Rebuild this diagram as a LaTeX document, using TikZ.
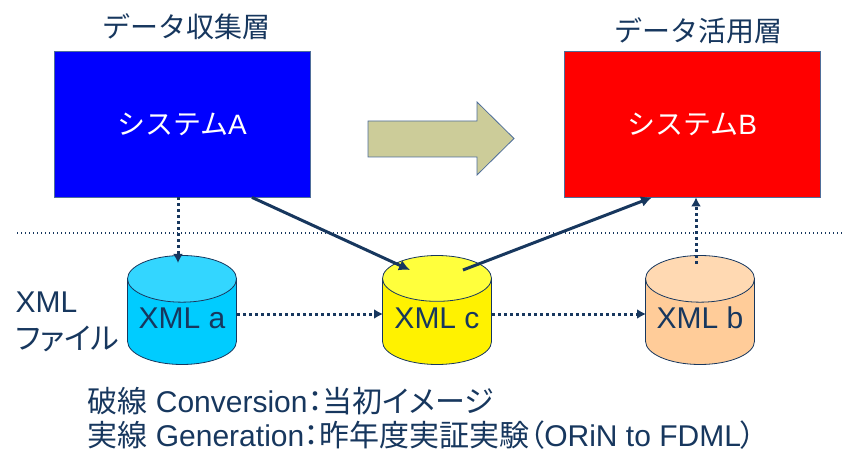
\documentclass[tikz,border=0pt]{standalone}
\usepackage{fontspec}
\setmainfont{Liberation Sans}
\newfontfamily\jp{Noto Sans CJK JP}
\newfontfamily\jpp[RawFeature=+palt]{Noto Sans CJK JP}
\usetikzlibrary{shapes.geometric,arrows.meta}

\definecolor{navy}{RGB}{23,55,94}
\definecolor{boxedge}{RGB}{79,110,154}
\definecolor{khaki}{RGB}{204,204,153}
\definecolor{cyanbody}{RGB}{0,204,255}
\definecolor{cyantop}{RGB}{51,214,255}
\definecolor{yellowtop}{RGB}{255,255,60}
\definecolor{peachbody}{RGB}{255,204,153}
\definecolor{peachtop}{RGB}{255,217,178}

\begin{document}
\begin{tikzpicture}[x=1pt, y=-1pt,
	sysbox/.style={draw=boxedge, line width=0.8pt, minimum width=256pt, minimum height=146pt,
		text=white, font=\fontsize{28}{34}\selectfont},
	layer/.style={text=navy, font=\fontsize{28}{34}\selectfont},
	xmlfile/.style={cylinder, shape border rotate=90, aspect=0.5, draw=navy, line width=0.8pt,
		minimum width=109pt, minimum height=109pt, cylinder uses custom fill, anchor=shape center,
		text=navy, text height=5pt, text depth=0pt, font=\fontsize{30}{36}\selectfont},
	legendline/.style={anchor=base west, text=navy, font=\fontsize{30}{36}\selectfont},
	conv/.style={navy, line width=3pt, dash pattern=on 3pt off 3pt, -{Latex[length=9pt,width=10pt]}},
	gen/.style={navy, line width=3pt, -{Latex[length=11pt,width=11pt]}}]
	\useasboundingbox (0,0) rectangle (843,454);

	% systems and layers
	\node[sysbox, fill=blue] (sysA) at (182,124) {{\jp システム}A};
	\node[sysbox, fill=red] (sysB) at (692,124) {{\jp システム}B};
	\node[layer] (collect) at (186,27) {\jp データ収集層};
	\node[layer] (use) at (698,31) {\jp データ活用層};

	% big arrow between the layers
	\draw[draw=boxedge, fill=khaki, line width=0.8pt]
		(368,121) -- (477,121) -- (477,102) -- (514,138.5) -- (477,175) -- (477,157) -- (368,157) -- cycle;

	% separator
	\draw[navy, line width=1.2pt, dash pattern=on 1.2pt off 2.8pt] (17,233) -- (843,233);

	% xml files
	\node[xmlfile, cylinder body fill=cyanbody, cylinder end fill=cyantop] (xmla) at (182,310) {XML a};
	\node[xmlfile, cylinder body fill=yellow, cylinder end fill=yellowtop] (xmlc) at (437,310) {XML c};
	\node[xmlfile, cylinder body fill=peachbody, cylinder end fill=peachtop] (xmlb) at (700,310) {XML b};
	\node[anchor=west, align=left, text=navy, font=\fontsize{30}{37}\selectfont] (files) at (12,322)
		{XML\\{\jpp ファイル}};

	% connectors
	\draw[conv] ([xshift=-4pt]sysA.south) -- ([xshift=-4pt,yshift=47pt]xmla.shape center);
	\draw[conv] ([xshift=55pt,yshift=-4pt]xmla.shape center) -- ([xshift=-54pt,yshift=-4pt]xmlc.shape center);
	\draw[conv] ([xshift=55pt,yshift=-4pt]xmlc.shape center) -- ([xshift=-54pt,yshift=-4pt]xmlb.shape center);
	\draw[conv] ([xshift=-4pt,yshift=46pt]xmlb.shape center) -- ([xshift=4pt]sysB.south);
	\draw[gen] ([xshift=70pt]sysA.south) -- ([xshift=-27pt,yshift=40pt]xmlc.shape center);
	\draw[gen] ([xshift=26pt,yshift=40pt]xmlc.shape center) -- ([xshift=-40pt]sysB.south);

	% legend
	\node[legendline] (legconv) at (84,412) {{\jpp 破線} Conversion{\jpp ：当初イメージ}};
	\node[legendline] (leggen) at (84,446) {{\jpp 実線} Generation{\jpp ：昨年度実証実験（}ORiN to FDML{\jpp ）}};
\end{tikzpicture}
\end{document}
